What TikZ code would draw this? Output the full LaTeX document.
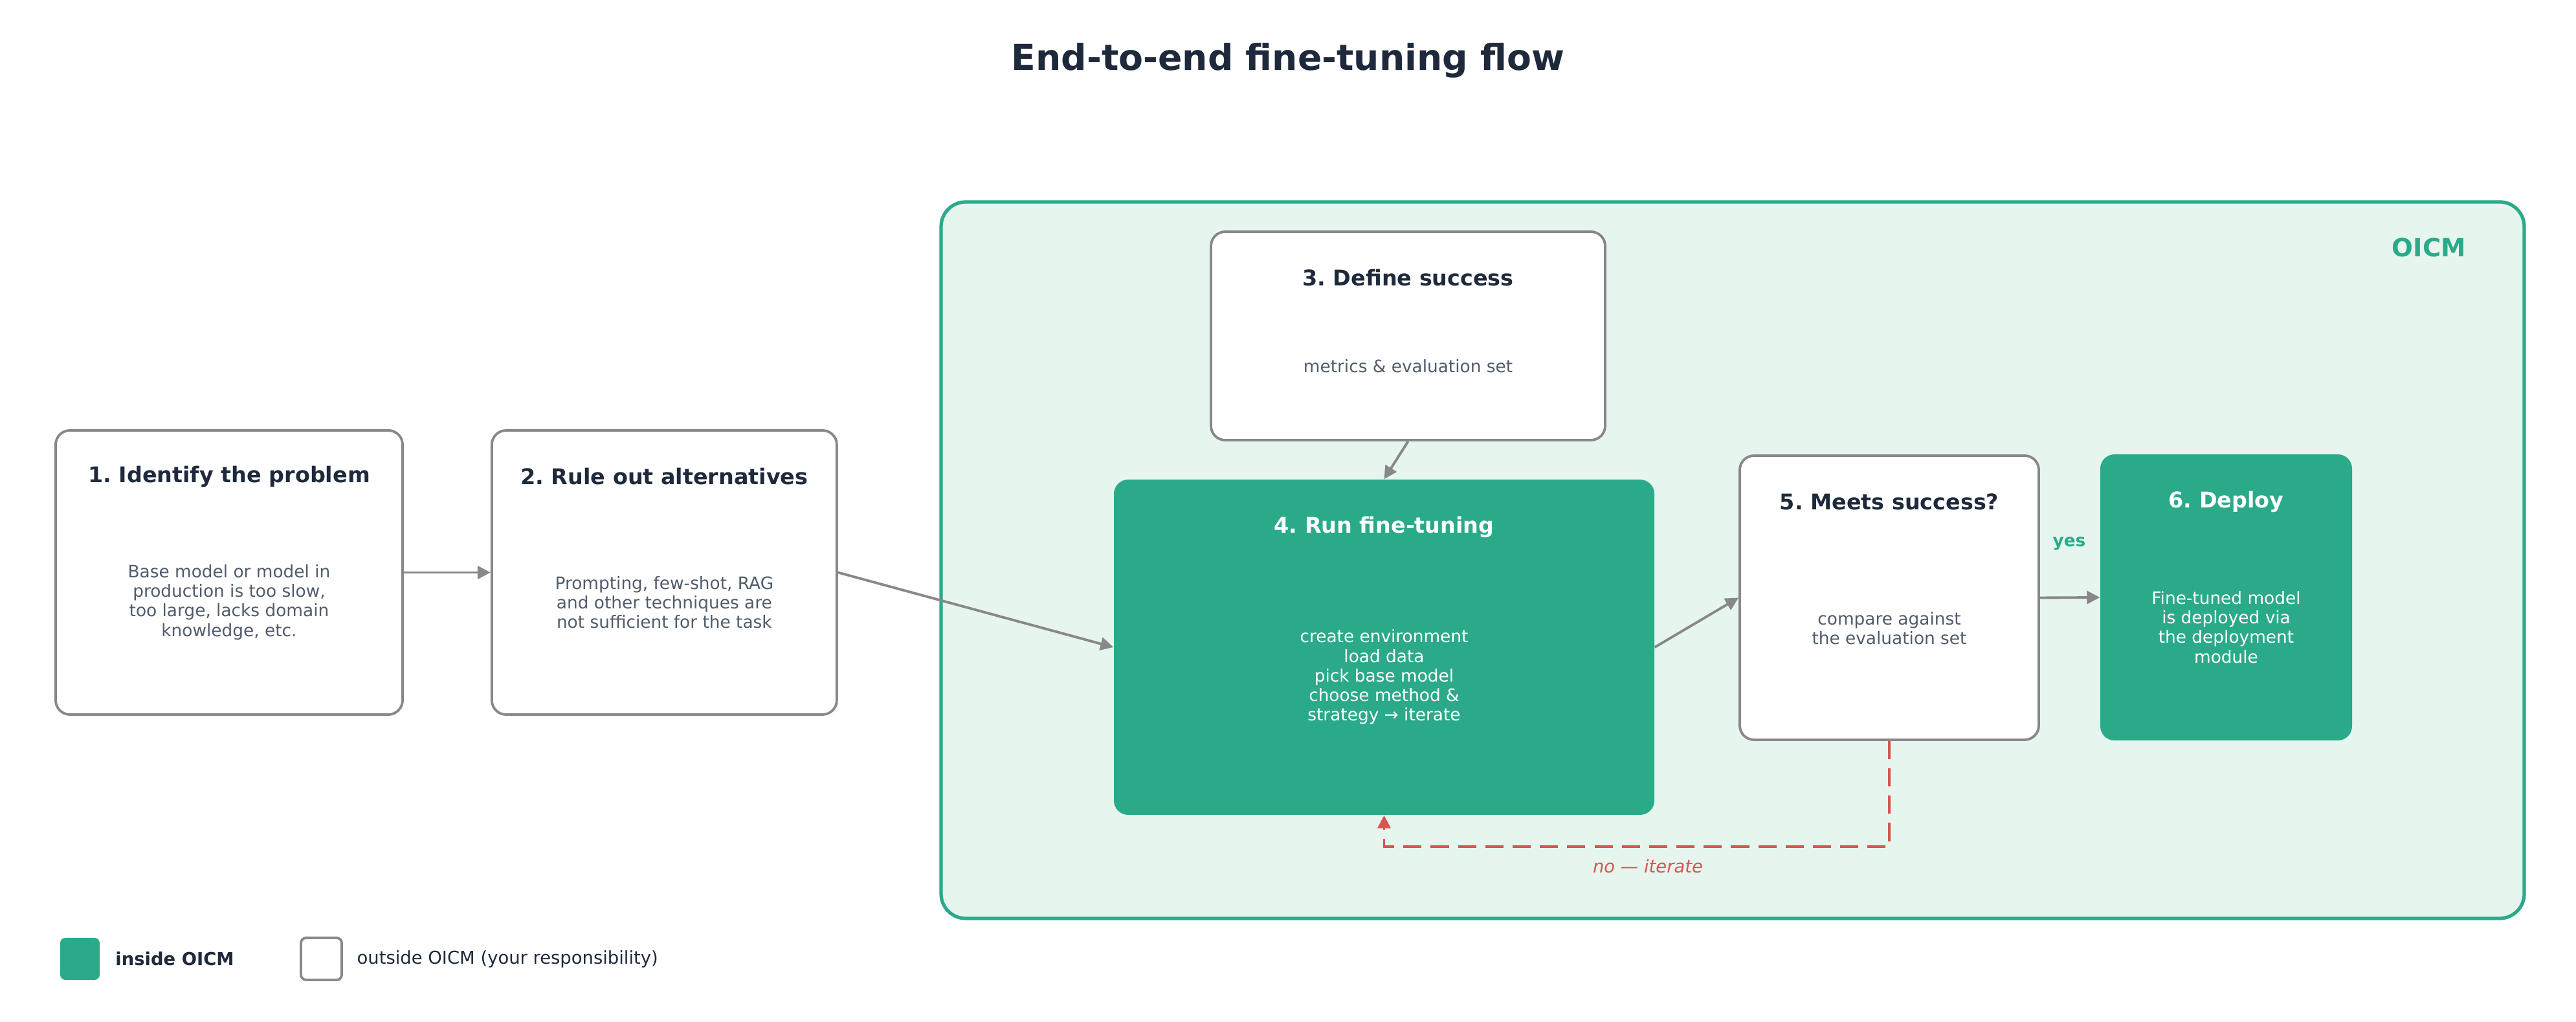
\documentclass[tikz,border=0pt]{standalone}
\usepackage{fontspec}
\setmainfont{DejaVu Sans}
\usepackage{xcolor}
\usepackage{tikz}
\usetikzlibrary{arrows.meta, positioning, calc}
\frenchspacing

\definecolor{oicmgreen}{HTML}{2BAA8A}
\definecolor{oicmbg}{HTML}{E6F5EE}
\definecolor{edgegray}{HTML}{888888}
\definecolor{inkdark}{HTML}{1E293B}
\definecolor{inkgray}{HTML}{505B6B}
\definecolor{loopred}{HTML}{D9534F}

\begin{document}
\begin{tikzpicture}[
  outbox/.style={draw=edgegray, line width=1.1pt, fill=white, rounded corners=0.22cm},
  inbox/.style={fill=oicmgreen, rounded corners=0.22cm},
  head/.style={font=\fontsize{9.5}{11}\selectfont\bfseries, text=inkdark},
  body/.style={font=\fontsize{7.5}{8.6}\selectfont, text=inkgray, align=center},
  arr/.style={-{Triangle[length=5.7pt,width=5.7pt]}, line width=1.1pt, edgegray},
]
\useasboundingbox (0,0) rectangle (39.8,15.79);
\node[font=\fontsize{15.7}{18}\selectfont\bfseries, text=inkdark] (title) at (19.9,14.85) {End-to-end fine-tuning flow};
% OICM region
\node[draw=oicmgreen, line width=1.5pt, fill=oicmbg, rounded corners=0.38cm,
  minimum width=24.46cm, minimum height=11.07cm] (oicm) at (26.77,7.135) {};
\node[font=\fontsize{11}{13}\selectfont\bfseries, text=oicmgreen] (oicml) at (37.53,11.97) {OICM};
% Step 1
\node[outbox, minimum width=5.36cm, minimum height=4.39cm] (s1) at (3.54,6.945) {};
\node[head] (s1h) at ($(s1.north)+(0,-0.73)$) {1. Identify the problem};
\node[body] (s1t) at ($(s1.center)+(0,-0.46)$) {Base model or model in\\production is too slow,\\too large, lacks domain\\knowledge, etc.};
% Step 2
\node[outbox, minimum width=5.33cm, minimum height=4.39cm, right=1.34cm of s1] (s2) {};
\node[head] (s2h) at ($(s2.north)+(0,-0.73)$) {2. Rule out alternatives};
\node[body] (s2t) at ($(s2.center)+(0,-0.46)$) {Prompting, few-shot, RAG\\and other techniques are\\not sufficient for the task};
% Step 3
\node[outbox, minimum width=6.09cm, minimum height=3.22cm] (s3) at (21.755,10.6) {};
\node[head] (s3h) at ($(s3.north)+(0,-0.73)$) {3. Define success};
\node[body] (s3t) at ($(s3.center)+(0,-0.47)$) {metrics \& evaluation set};
% Step 4
\node[inbox, minimum width=8.35cm, minimum height=5.18cm] (s4) at (21.385,5.79) {};
\node[head, text=white] (s4h) at ($(s4.north)+(0,-0.74)$) {4. Run fine-tuning};
\node[body, text=white] (s4t) at ($(s4.center)+(0,-0.46)$) {create environment\\load data\\pick base model\\choose method \&\\strategy → iterate};
% Step 5
\node[outbox, minimum width=4.62cm, minimum height=4.39cm] (s5) at (29.19,6.555) {};
\node[head] (s5h) at ($(s5.north)+(0,-0.73)$) {5. Meets success?};
\node[body] (s5t) at ($(s5.center)+(0,-0.47)$) {compare against\\the evaluation set};
% Step 6
\node[inbox, minimum width=3.89cm, minimum height=4.42cm] (s6) at (34.395,6.56) {};
\node[head, text=white] (s6h) at ($(s6.north)+(0,-0.74)$) {6. Deploy};
\node[body, text=white] (s6t) at ($(s6.center)+(0,-0.46)$) {Fine-tuned model\\is deployed via\\the deployment\\module};
% connectors
\draw[arr] (s1.east) -- (s2.west);
\draw[arr] (s2.east) -- (s4.west);
\draw[arr] (s3.south) -- (s4.north);
\draw[arr] (s4.east) -- (s5.west);
\draw[arr] (s5.east) -- (s6.west);
\node[font=\fontsize{7.5}{9}\selectfont\bfseries, text=oicmgreen] (yes) at (31.97,7.39) {yes};
\coordinate (turn) at (29.19,2.71);
\draw[arr, loopred, dash pattern=on 8pt off 4pt] (s5.south) -- (turn) -| (s4.south);
\node[font=\fontsize{7.8}{9}\selectfont\itshape, text=loopred] (noit) at (25.46,2.41) {no — iterate};
% legend
\node[inbox, rounded corners=0.08cm, minimum width=0.61cm, minimum height=0.65cm] (lg1) at (1.235,0.975) {};
\node[right=0.23cm of lg1, inner sep=0, font=\fontsize{7.8}{9}\selectfont\bfseries, text=inkdark] (lg1t) {inside OICM};
\node[outbox, rounded corners=0.08cm, minimum width=0.63cm, minimum height=0.65cm] (lg2) at (4.965,0.975) {};
\node[right=0.21cm of lg2, inner sep=0, font=\fontsize{7.8}{9}\selectfont, text=inkdark] (lg2t) {outside OICM (your responsibility)};
\end{tikzpicture}
\end{document}
